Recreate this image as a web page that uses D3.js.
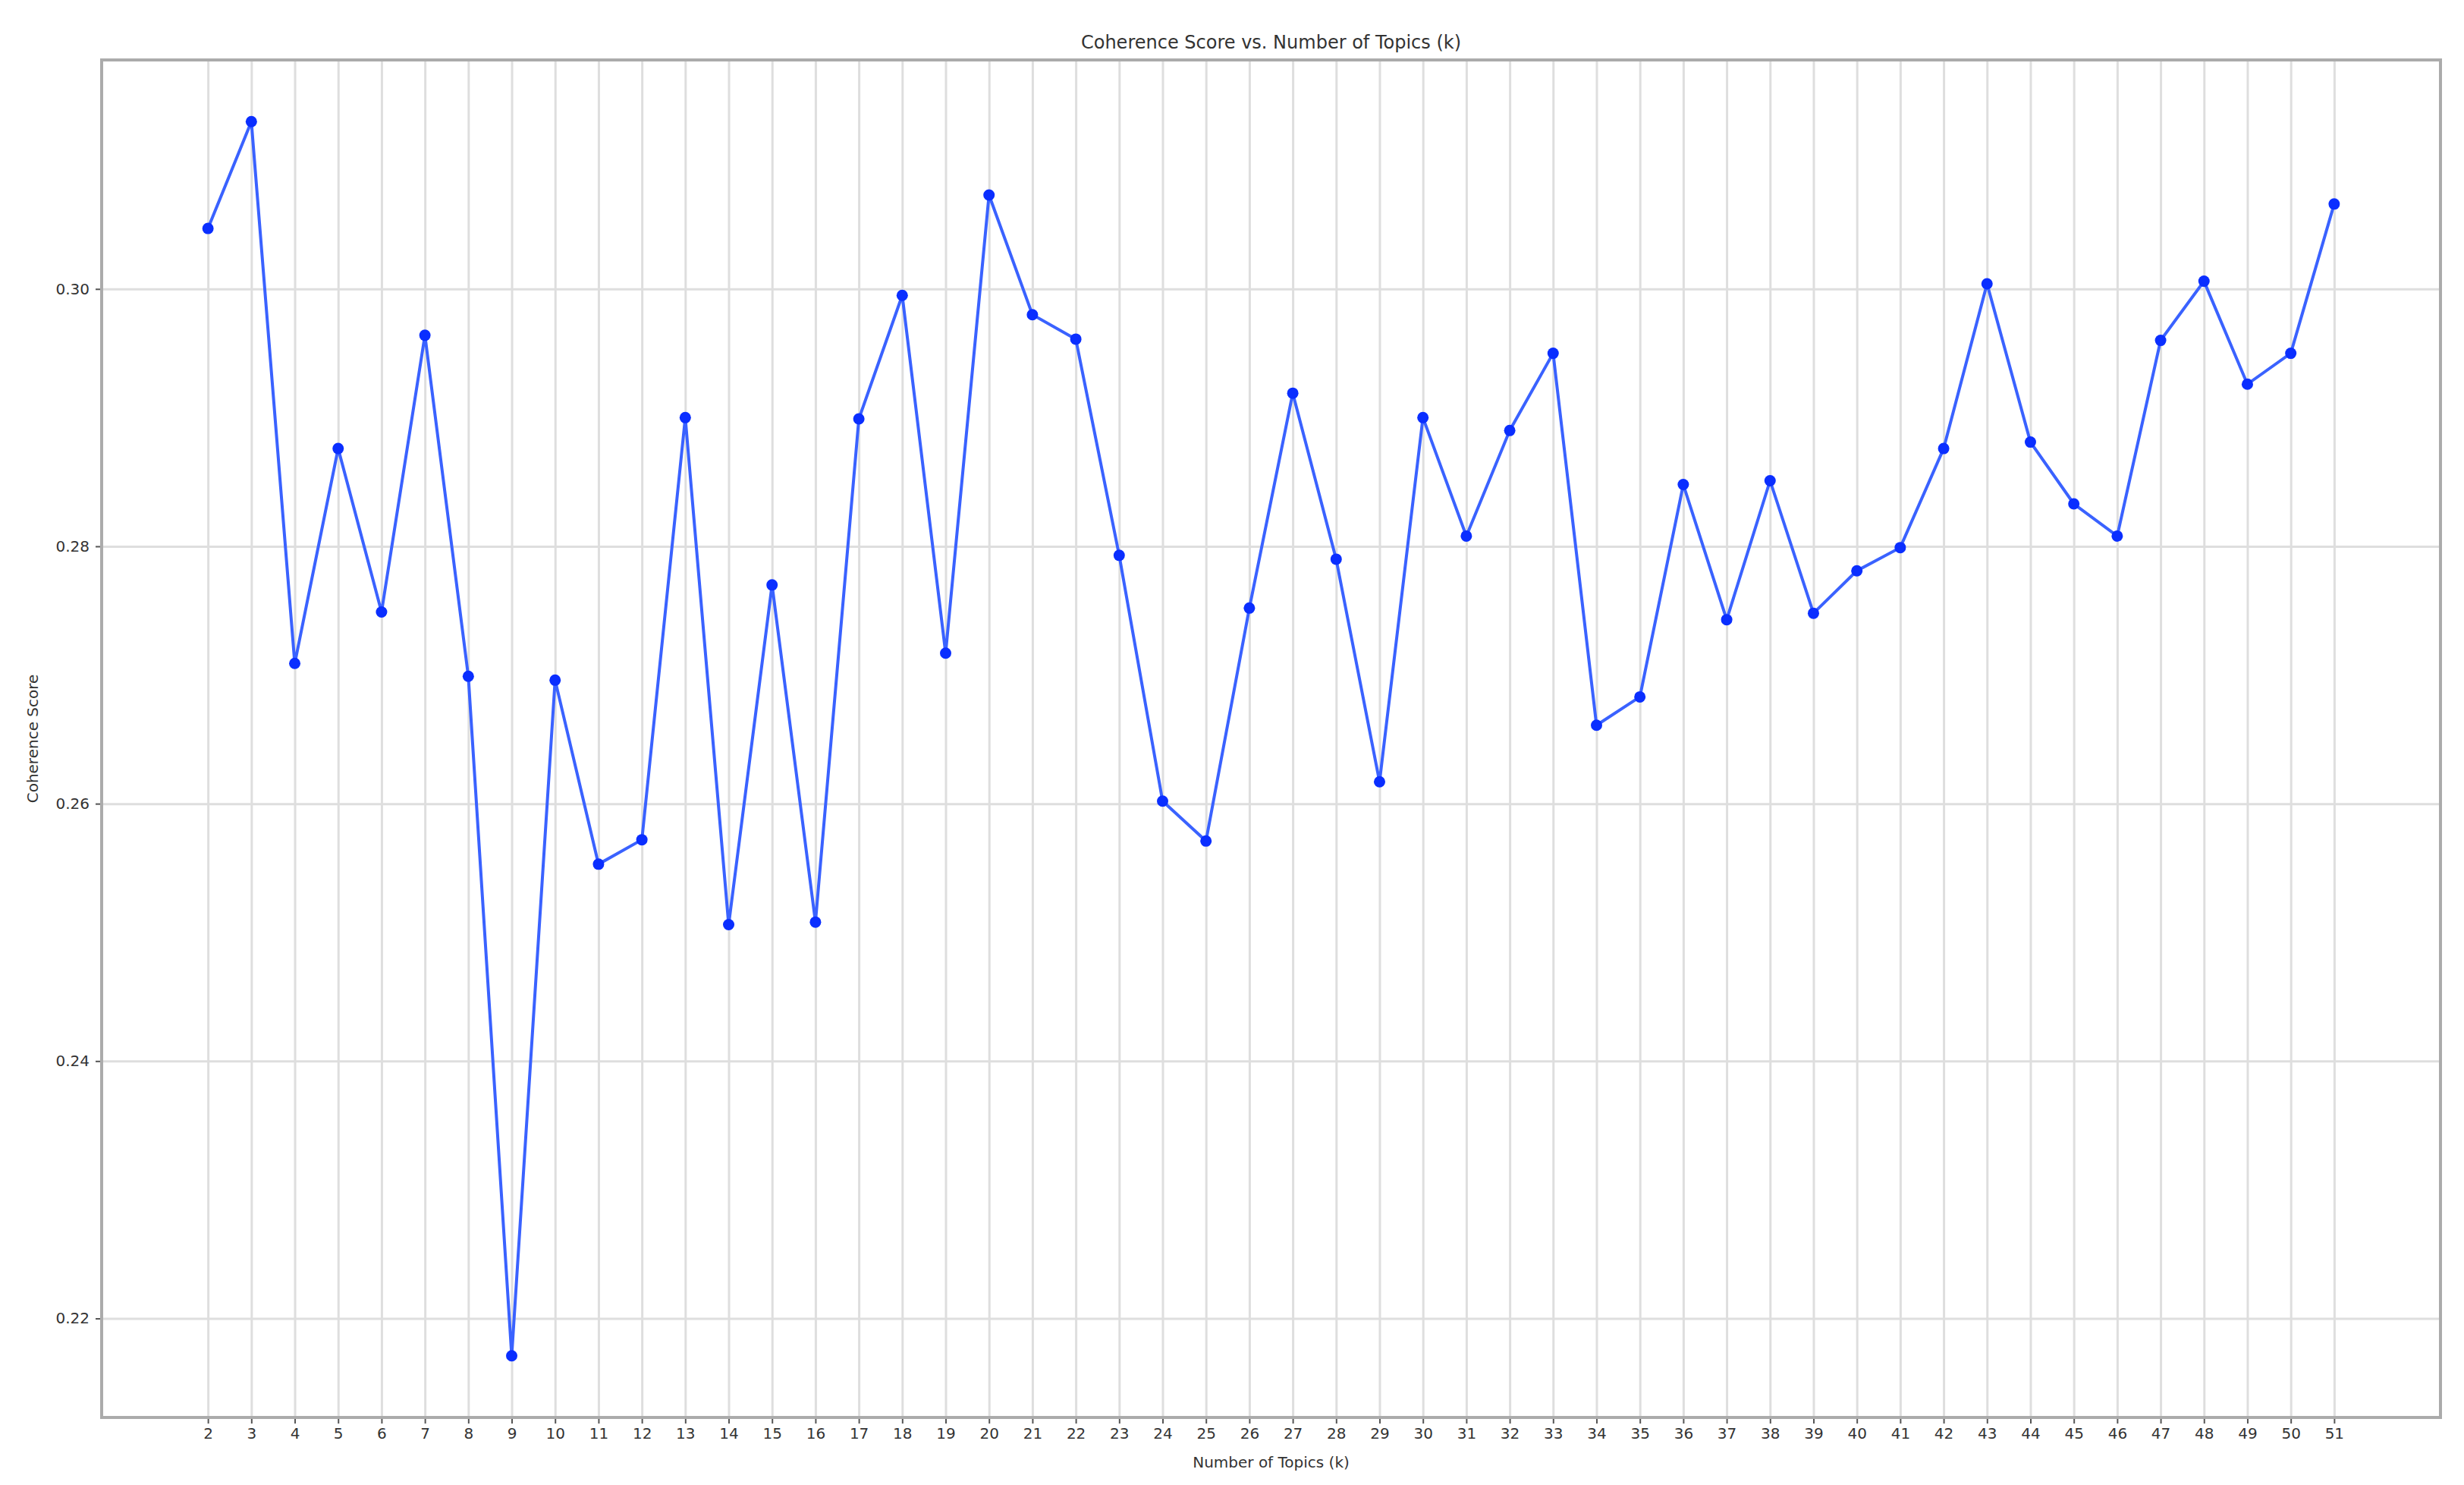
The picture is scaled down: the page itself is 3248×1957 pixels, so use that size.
<!DOCTYPE html>
<html>
<head>
<meta charset="utf-8">
<script src="https://cdn.jsdelivr.net/npm/d3@7"></script>
<style>
    body { margin: 0; background: #fff; }
    text { font-family: 'DejaVu Sans', sans-serif; fill: #333; }
    .grid line { stroke: #dedede; stroke-width: 3; }
    .grid path { display: none; }
    .axis path { display: none; }
    .axis line { stroke: #555; stroke-width: 2; }
    .axis text { font-size: 20px; }
</style>
</head>
<body>
<svg id="chart" width="3248" height="1957"></svg>
<script>
// number of topics k
let topics = [2, 3, 4, 5, 6, 7, 8, 9, 10, 11, 12, 13, 14, 15, 16, 17, 18, 19, 20, 21,
    22, 23, 24, 25, 26, 27, 28, 29, 30, 31, 32, 33, 34, 35, 36, 37, 38, 39, 40, 41,
    42, 43, 44, 45, 46, 47, 48, 49, 50, 51];

// coherence score per k
let scores = [0.3047, 0.3130, 0.2709, 0.2876, 0.2749, 0.2964, 0.2699, 0.2171, 0.2696, 0.2553,
    0.2572, 0.2900, 0.2506, 0.2770, 0.2508, 0.2899, 0.2995, 0.2717, 0.3073, 0.2980,
    0.2961, 0.2793, 0.2602, 0.2571, 0.2752, 0.2919, 0.2790, 0.2617, 0.2900, 0.2808,
    0.2890, 0.2950, 0.2661, 0.2683, 0.2848, 0.2743, 0.2851, 0.2748, 0.2781, 0.2799,
    0.2876, 0.3004, 0.2881, 0.2833, 0.2808, 0.2960, 0.3006, 0.2926, 0.2950, 0.3066];

let yTicks = [0.22, 0.24, 0.26, 0.28, 0.30];

let svg = d3.select('#chart');

let width = +svg.attr('width');
let height = +svg.attr('height');
let margin = { top: 79, right: 31, bottom: 89, left: 134 };
let innerW = width - margin.left - margin.right;
let innerH = height - margin.top - margin.bottom;

let data = topics.map((k, i) => ({ k: k, v: scores[i] }));

// matplotlib style 5% padding on both axes
let xExt = d3.extent(topics);
let xPad = (xExt[1] - xExt[0]) * 0.05;
let yExt = d3.extent(scores);
let yPad = (yExt[1] - yExt[0]) * 0.05;

let x = d3
    .scaleLinear()
    .domain([xExt[0] - xPad, xExt[1] + xPad])
    .range([0, innerW]);

let y = d3
    .scaleLinear()
    .domain([yExt[0] - yPad, yExt[1] + yPad])
    .range([innerH, 0]);

let g = svg.append('g').attr('transform', 'translate(' + margin.left + ',' + margin.top + ')');

// grid
g.append('g')
    .attr('class', 'grid')
    .attr('transform', 'translate(0,' + innerH + ')')
    .call(d3.axisBottom(x).tickValues(topics).tickSize(-innerH).tickFormat(''));

g.append('g')
    .attr('class', 'grid')
    .call(d3.axisLeft(y).tickValues(yTicks).tickSize(-innerW).tickFormat(''));

// axes
g.append('g')
    .attr('class', 'axis')
    .attr('transform', 'translate(0,' + innerH + ')')
    .call(d3.axisBottom(x).tickValues(topics).tickSize(8).tickPadding(6).tickFormat(d3.format('d')));

g.append('g')
    .attr('class', 'axis')
    .call(d3.axisLeft(y).tickValues(yTicks).tickSize(8).tickPadding(8).tickFormat(d3.format('.2f')));

// frame
g.append('rect')
    .attr('width', innerW)
    .attr('height', innerH)
    .attr('fill', 'none')
    .attr('stroke', '#ababab')
    .attr('stroke-width', 4);

// line
let line = d3
    .line()
    .x(d => x(d.k))
    .y(d => y(d.v));

g.append('path')
    .datum(data)
    .attr('fill', 'none')
    .attr('stroke', '#3a62ff')
    .attr('stroke-width', 4)
    .attr('d', line);

g.selectAll('.dot')
    .data(data)
    .enter()
    .append('circle')
    .attr('class', 'dot')
    .attr('cx', d => x(d.k))
    .attr('cy', d => y(d.v))
    .attr('r', 7.5)
    .attr('fill', '#0a2eff');

// titles
svg.append('text')
    .attr('x', margin.left + innerW / 2)
    .attr('y', 64)
    .attr('text-anchor', 'middle')
    .style('font-size', '24px')
    .text('Coherence Score vs. Number of Topics (k)');

svg.append('text')
    .attr('x', margin.left + innerW / 2)
    .attr('y', 1934)
    .attr('text-anchor', 'middle')
    .style('font-size', '20px')
    .text('Number of Topics (k)');

svg.append('text')
    .attr('transform', 'translate(50,' + (margin.top + innerH / 2) + ') rotate(-90)')
    .attr('text-anchor', 'middle')
    .style('font-size', '20px')
    .text('Coherence Score');
</script>
</body>
</html>
